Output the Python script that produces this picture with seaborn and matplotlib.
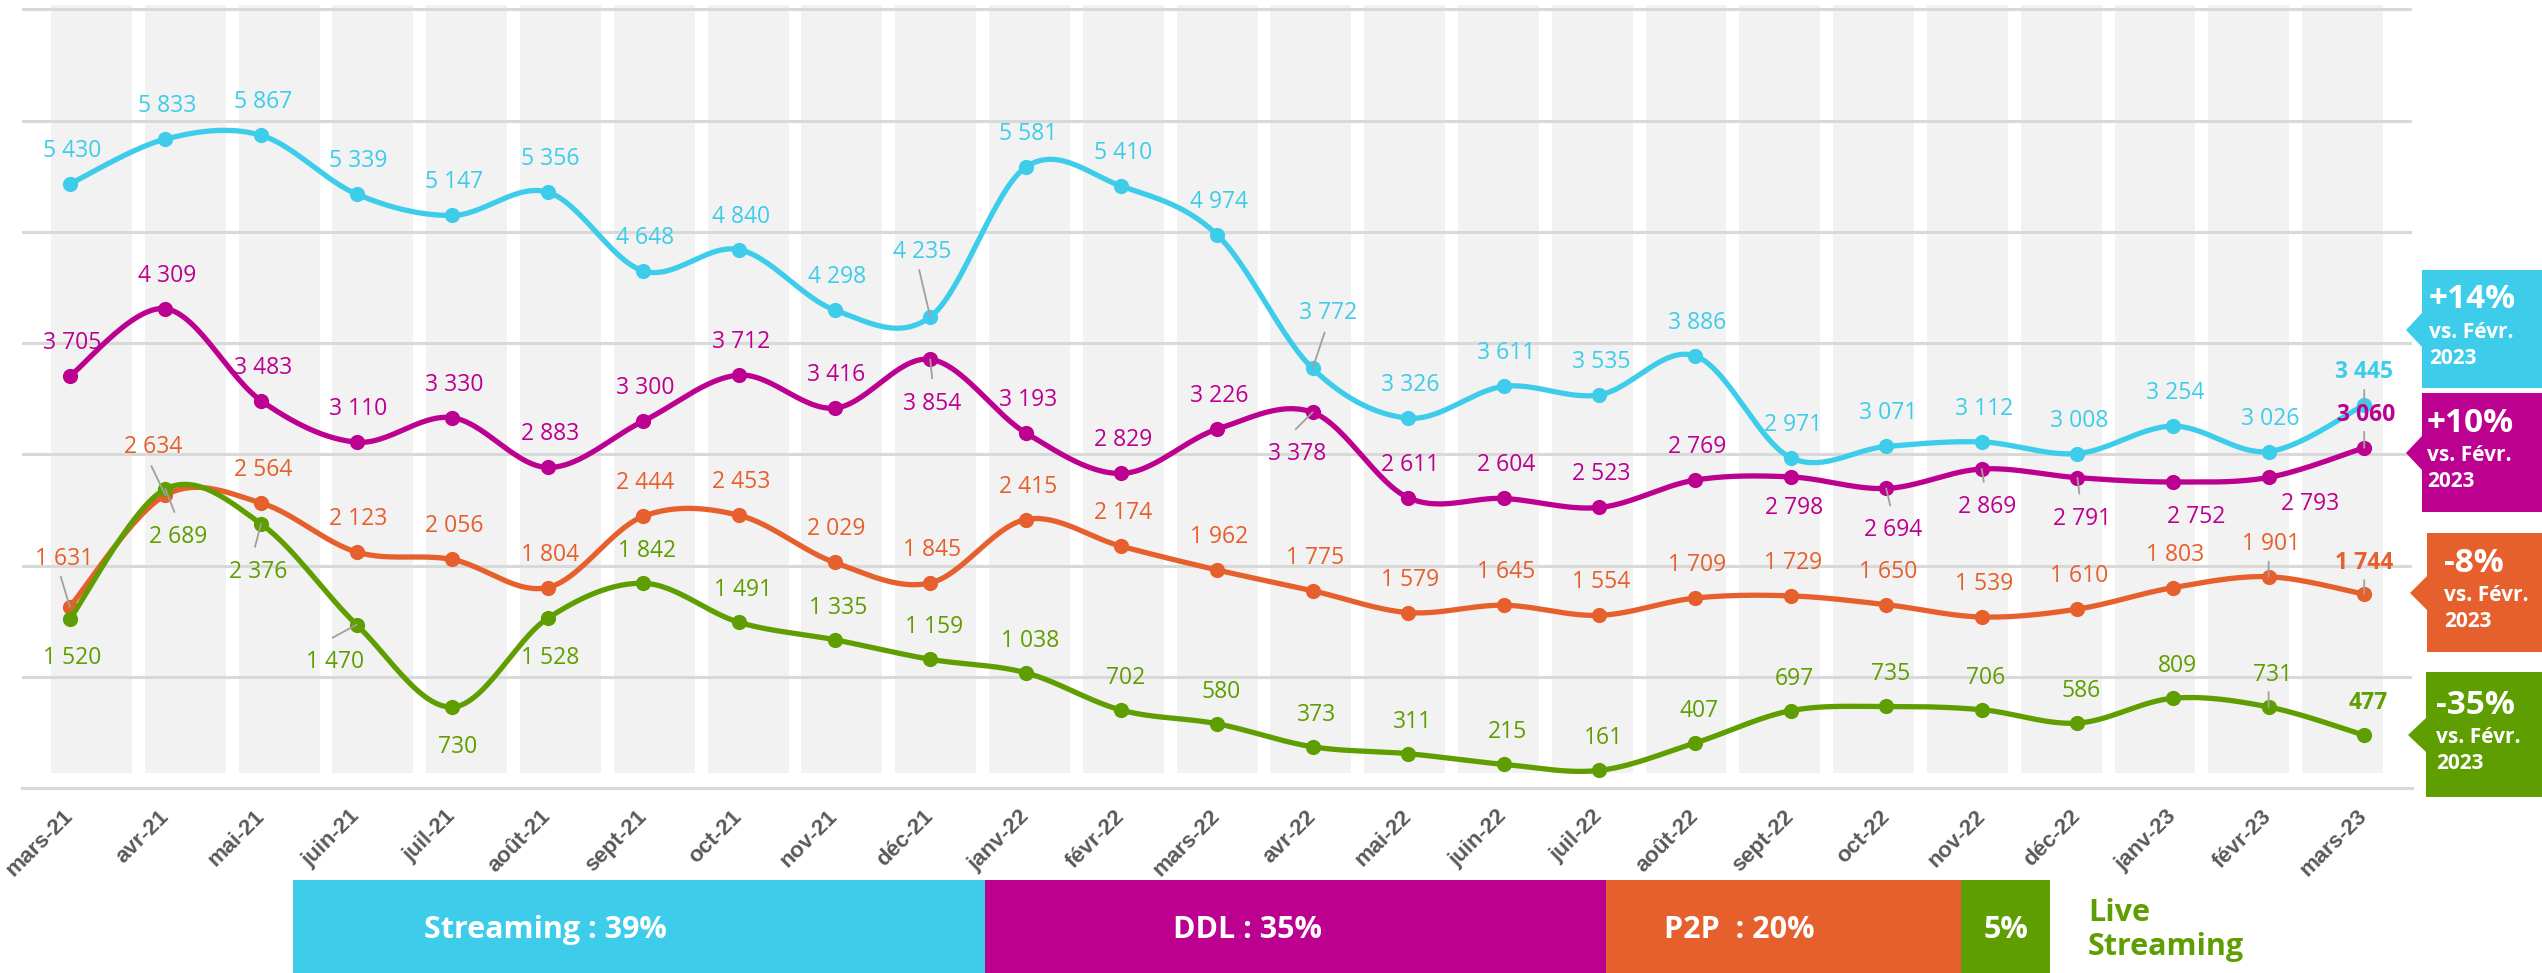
import numpy as np
import matplotlib
matplotlib.use("Agg")
import matplotlib.pyplot as plt
from matplotlib.patches import Polygon
import seaborn as sns

# ---------------- data ----------------
months = ["mars-21", "avr-21", "mai-21", "juin-21", "juil-21", "août-21", "sept-21",
          "oct-21", "nov-21", "déc-21", "janv-22", "févr-22", "mars-22", "avr-22",
          "mai-22", "juin-22", "juil-22", "août-22", "sept-22", "oct-22", "nov-22",
          "déc-22", "janv-23", "févr-23", "mars-23"]
streaming = [5430, 5833, 5867, 5339, 5147, 5356, 4648, 4840, 4298, 4235, 5581, 5410, 4974,
             3772, 3326, 3611, 3535, 3886, 2971, 3071, 3112, 3008, 3254, 3026, 3445]
ddl = [3705, 4309, 3483, 3110, 3330, 2883, 3300, 3712, 3416, 3854, 3193, 2829, 3226,
       3378, 2611, 2604, 2523, 2769, 2798, 2694, 2869, 2791, 2752, 2793, 3060]
p2p = [1631, 2634, 2564, 2123, 2056, 1804, 2444, 2453, 2029, 1845, 2415, 2174, 1962,
       1775, 1579, 1645, 1554, 1709, 1729, 1650, 1539, 1610, 1803, 1901, 1744]
live = [1520, 2689, 2376, 1470, 730, 1528, 1842, 1491, 1335, 1159, 1038, 702, 580,
        373, 311, 215, 161, 407, 697, 735, 706, 586, 809, 731, 477]
series_names = ["Streaming", "DDL", "P2P", "Live Streaming"]
share_labels = ["Streaming : 39%", "DDL : 35%", "P2P  : 20%", "5%"]
share_values = [39, 35, 20, 5]
change_labels = ["+14%", "+10%", "-8%", "-35%"]
change_sub = ["vs. Févr.", "2023"]

# ---------------- style ----------------
colors = ["#3dcdea", "#bc0090", "#e5602c", "#5f9e00"]
W, H = 2542, 973
sns.set_theme(style="white")
plt.rcParams['font.family'] = ['Open Sans', 'DejaVu Sans']

# label offsets in pixels (dx, dy up) relative to each point; default above
DEF = {0: (2, 33), 1: (2, 33), 2: (2, 33), 3: (4, 32)}
label_off = [
    {9: (-8, 65), 13: (16, 55), 24: (0, 33)},
    {9: (2, -45), 13: (-15, -42), 18: (3, -31), 19: (7, -42), 20: (5, -38),
     21: (5, -41), 22: (23, -35), 23: (42, -27)},
    {0: (-6, 48), 1: (-12, 48), 24: (0, 31)},
    {0: (2, -39), 1: (13, -48), 2: (-3, -48), 3: (-22, -37), 4: (5, -40), 5: (2, -40)},
]
leaders = [
    {9: (-11, 47), 13: (12, 36), 24: (0, 15)},
    {9: (2, -19), 13: (-17, -17), 19: (4, -17), 20: (2, -13), 21: (2, -16), 24: (0, 16)},
    {0: (-9, 30), 1: (-14, 29), 23: (0, 15), 24: (0, 14)},
    {1: (9, -23), 2: (-6, -23), 3: (-24, -13), 23: (0, 15)},
]


def fx(px):
    return px / W


def fy(py):
    return 1 - py / H


def smooth(vals, n=30):
    x = np.arange(len(vals), dtype=float)
    P = np.column_stack([x, np.asarray(vals, dtype=float)])
    E = np.vstack([P[0], P, P[-1]])
    out = []
    for i in range(len(P) - 1):
        p0, p1, p2, p3 = E[i], E[i + 1], E[i + 2], E[i + 3]
        c1 = p1 + (p2 - p0) / 6
        c2 = p2 - (p3 - p1) / 6
        t = np.linspace(0, 1, n, endpoint=(i == len(P) - 2))[:, None]
        out.append((1 - t) ** 3 * p1 + 3 * (1 - t) ** 2 * t * c1
                   + 3 * (1 - t) * t ** 2 * c2 + t ** 3 * p2)
    return np.vstack(out)


def fmt(v):
    return f"{v:,}".replace(",", " ")


fig = plt.figure(figsize=(W / 100, H / 100), dpi=100)

L, R, T, B = 22, 2412, 4, 788.3
ymax = (B - T) / 0.1113
rect = [fx(L), fy(B), fx(R) - fx(L), fy(T) - fy(B)]

# background month bands
ax_bg = fig.add_axes(rect)
ax_bg.set_xlim(-0.741, 24.74)
ax_bg.set_ylim(0, ymax)
ax_bg.bar(np.arange(len(months)), 6900, bottom=137, width=0.863, color="#f2f2f2", linewidth=0)
ax_bg.axis("off")

ax = fig.add_axes(rect)
ax.patch.set_alpha(0)
ax.set_xlim(-0.5, len(months) - 0.5)
ax.set_ylim(0, ymax)
for v in range(1000, 8000, 1000):
    ax.axhline(v, color="#d9d9d9", lw=2.2, zorder=1)
for s in ["top", "right", "left"]:
    ax.spines[s].set_visible(False)
ax.spines["bottom"].set_color("#d9d9d9")
ax.spines["bottom"].set_linewidth(2.2)
ax.set_yticks([])
ax.set_xticks(np.arange(len(months)))
ax.set_xticklabels(months, rotation=45, ha="right", va="center", rotation_mode="anchor",
                   fontsize=16, fontweight="bold", color="#595959",
                   family=["Liberation Sans", "DejaVu Sans"])
ax.tick_params(axis="x", which="major", length=0, pad=18)
ax.set_xticks(np.arange(-0.5, len(months)), minor=True)
ax.tick_params(axis="x", which="minor", length=7, width=1.6, color="#d9d9d9", direction="out")

all_series = [streaming, ddl, p2p, live]
for k, (vals, col) in enumerate(zip(all_series, colors)):
    cur = smooth(vals)
    sns.lineplot(x=cur[:, 0], y=cur[:, 1], sort=False, estimator=None, color=col,
                 lw=3.8, ax=ax, zorder=3 + k * 0.1, legend=False)
    sns.scatterplot(x=np.arange(len(vals)), y=vals, color=col, s=120, linewidth=0,
                    ax=ax, zorder=3.05 + k * 0.1, legend=False)

for k, (vals, col) in enumerate(zip(all_series, colors)):
    for i, v in enumerate(vals):
        dx, dy = label_off[k].get(i, DEF[k])
        last = i == len(vals) - 1
        ax.annotate(fmt(v), xy=(i, v), xytext=(dx, dy), textcoords="offset pixels",
                    ha="center", va="center", fontsize=16.5, color=col,
                    fontweight="bold" if last else "normal", zorder=6)
        if i in leaders[k]:
            lx, ly = leaders[k][i]
            ax.annotate("", xy=(i, v), xytext=(lx, ly), textcoords="offset pixels",
                        arrowprops=dict(arrowstyle="-", color="#a0a0a0", lw=1.3,
                                        shrinkA=0, shrinkB=0), zorder=5)

# callout boxes on the right: (left, top, bottom, tip_x, tip_y, text_x)
boxes = [(2422, 270, 388, 2406, 330, 2429),
         (2422, 393, 512, 2406, 453, 2427),
         (2427, 533, 652, 2410, 593, 2444),
         (2426, 672, 797, 2408, 735, 2436)]
for (bl, bt, bb, tx, ty, txt_x), col, lab in zip(boxes, colors, change_labels):
    pts = [(bl, bt), (W + 5, bt), (W + 5, bb), (bl, bb), (bl, ty + 17), (tx, ty), (bl, ty - 17)]
    fig.patches.append(Polygon([(fx(a), fy(b)) for a, b in pts], closed=True,
                               transform=fig.transFigure, facecolor=col, edgecolor="none"))
    cy = (bt + bb) / 2
    fig.text(fx(txt_x), fy(cy - 29), lab, color="white", fontsize=24, fontweight="bold",
             ha="left", va="center")
    fig.text(fx(txt_x), fy(cy + 3), change_sub[0], color="white", fontsize=15,
             fontweight="bold", ha="left", va="center")
    fig.text(fx(txt_x), fy(cy + 29), change_sub[1], color="white", fontsize=15,
             fontweight="bold", ha="left", va="center")

# share bar at the bottom
ax_leg = fig.add_axes([fx(293), fy(973), fx(2050) - fx(293), fy(880) - fy(973)])
lefts = np.concatenate([[0], np.cumsum(share_values)[:-1]])
ax_leg.barh(0, share_values, left=lefts, height=1, color=colors, linewidth=0)
ax_leg.set_xlim(0, sum(share_values))
ax_leg.set_ylim(-0.5, 0.5)
ax_leg.axis("off")
text_x = [14.2, 53.8, 81.5, 96.5]
for tx, lab in zip(text_x, share_labels):
    ax_leg.text(tx, -0.04, lab, color="white", fontsize=22, fontweight="bold",
                ha="center", va="center")
fig.text(fx(2088), fy(930), "Live\nStreaming", color=colors[3], fontsize=22,
         fontweight="bold", ha="left", va="center", linespacing=1.15)

fig.savefig("out.png", dpi=100)
